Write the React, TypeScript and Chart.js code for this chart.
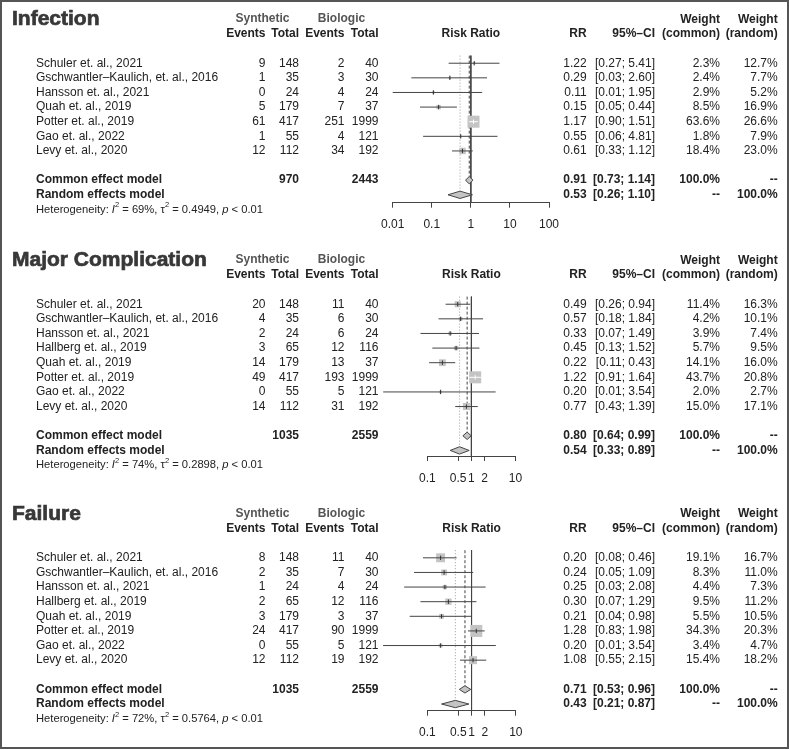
import React, { useEffect, useRef } from 'react';
import { Chart, registerables } from 'chart.js';
Chart.register(...registerables);

const FONT = '"Liberation Sans", Arial, Helvetica, sans-serif';
const W = 789;
const H = 750;
const STEP = 14.62;

// ---------------- Infection ----------------
const infStudies = ['Schuler et. al., 2021', 'Gschwantler\u2013Kaulich, et. al., 2016', 'Hansson et. al., 2021', 'Quah et. al., 2019', 'Potter et. al., 2019', 'Gao et. al., 2022', 'Levy et. al., 2020'];
const infSynEvents = [9, 1, 0, 5, 61, 1, 12];
const infSynTotal = [148, 35, 24, 179, 417, 55, 112];
const infBioEvents = [2, 3, 4, 7, 251, 4, 34];
const infBioTotal = [40, 30, 24, 37, 1999, 121, 192];
const infRR = [1.22, 0.29, 0.11, 0.15, 1.17, 0.55, 0.61];
const infLower = [0.27, 0.03, 0.01, 0.05, 0.90, 0.06, 0.33];
const infUpper = [5.41, 2.60, 1.95, 0.44, 1.51, 4.81, 1.12];
const infWCommon = [2.3, 2.4, 2.9, 8.5, 63.6, 1.8, 18.4];
const infWRandom = [12.7, 7.7, 5.2, 16.9, 26.6, 7.9, 23.0];
const infCommon = [0.91, 0.73, 1.14];
const infRandom = [0.53, 0.26, 1.10];
const infTotals = [970, 2443];
const infHet = { i2: 69, tau2: '0.4949', p: '< 0.01' };
const infTicks = [0.01, 0.1, 1, 10, 100];

// ---------------- Major Complication ----------------
const majStudies = ['Schuler et. al., 2021', 'Gschwantler\u2013Kaulich, et. al., 2016', 'Hansson et. al., 2021', 'Hallberg et. al., 2019', 'Quah et. al., 2019', 'Potter et. al., 2019', 'Gao et. al., 2022', 'Levy et. al., 2020'];
const majSynEvents = [20, 4, 2, 3, 14, 49, 0, 14];
const majSynTotal = [148, 35, 24, 65, 179, 417, 55, 112];
const majBioEvents = [11, 6, 6, 12, 13, 193, 5, 31];
const majBioTotal = [40, 30, 24, 116, 37, 1999, 121, 192];
const majRR = [0.49, 0.57, 0.33, 0.45, 0.22, 1.22, 0.20, 0.77];
const majLower = [0.26, 0.18, 0.07, 0.13, 0.11, 0.91, 0.01, 0.43];
const majUpper = [0.94, 1.84, 1.49, 1.52, 0.43, 1.64, 3.54, 1.39];
const majWCommon = [11.4, 4.2, 3.9, 5.7, 14.1, 43.7, 2.0, 15.0];
const majWRandom = [16.3, 10.1, 7.4, 9.5, 16.0, 20.8, 2.7, 17.1];
const majCommon = [0.80, 0.64, 0.99];
const majRandom = [0.54, 0.33, 0.89];
const majTotals = [1035, 2559];
const majHet = { i2: 74, tau2: '0.2898', p: '< 0.01' };
const majTicks = [0.1, 0.5, 1, 2, 10];

// ---------------- Failure ----------------
const failStudies = ['Schuler et. al., 2021', 'Gschwantler\u2013Kaulich, et. al., 2016', 'Hansson et. al., 2021', 'Hallberg et. al., 2019', 'Quah et. al., 2019', 'Potter et. al., 2019', 'Gao et. al., 2022', 'Levy et. al., 2020'];
const failSynEvents = [8, 2, 1, 2, 3, 24, 0, 12];
const failSynTotal = [148, 35, 24, 65, 179, 417, 55, 112];
const failBioEvents = [11, 7, 4, 12, 3, 90, 5, 19];
const failBioTotal = [40, 30, 24, 116, 37, 1999, 121, 192];
const failRR = [0.20, 0.24, 0.25, 0.30, 0.21, 1.28, 0.20, 1.08];
const failLower = [0.08, 0.05, 0.03, 0.07, 0.04, 0.83, 0.01, 0.55];
const failUpper = [0.46, 1.09, 2.08, 1.29, 0.98, 1.98, 3.54, 2.15];
const failWCommon = [19.1, 8.3, 4.4, 9.5, 5.5, 34.3, 3.4, 15.4];
const failWRandom = [16.7, 11.0, 7.3, 11.2, 10.5, 20.3, 4.7, 18.2];
const failCommon = [0.71, 0.53, 0.96];
const failRandom = [0.43, 0.21, 0.87];
const failTotals = [1035, 2559];
const failHet = { i2: 72, tau2: '0.5764', p: '< 0.01' };
const failTicks = [0.1, 0.5, 1, 2, 10];

type Panel = {
  title: string;
  studies: string[];
  synEvents: number[]; synTotal: number[]; bioEvents: number[]; bioTotal: number[];
  rr: number[]; lower: number[]; upper: number[];
  wCommon: number[]; wRandom: number[];
  common: number[]; random: number[]; totals: number[];
  het: { i2: number; tau2: string; p: string };
  ticks: number[];
  layout: { top: number; axisPx: number; left: number; right: number };
};

const panels: Panel[] = [
  {
    title: 'Infection', studies: infStudies, synEvents: infSynEvents, synTotal: infSynTotal,
    bioEvents: infBioEvents, bioTotal: infBioTotal, rr: infRR, lower: infLower, upper: infUpper,
    wCommon: infWCommon, wRandom: infWRandom, common: infCommon, random: infRandom, totals: infTotals,
    het: infHet, ticks: infTicks, layout: { top: 48.6, axisPx: 202.7, left: 392.7, right: 549 },
  },
  {
    title: 'Major Complication', studies: majStudies, synEvents: majSynEvents, synTotal: majSynTotal,
    bioEvents: majBioEvents, bioTotal: majBioTotal, rr: majRR, lower: majLower, upper: majUpper,
    wCommon: majWCommon, wRandom: majWRandom, common: majCommon, random: majRandom, totals: majTotals,
    het: majHet, ticks: majTicks, layout: { top: 289.6, axisPx: 456, left: 427.3, right: 515.5 },
  },
  {
    title: 'Failure', studies: failStudies, synEvents: failSynEvents, synTotal: failSynTotal,
    bioEvents: failBioEvents, bioTotal: failBioTotal, rr: failRR, lower: failLower, upper: failUpper,
    wCommon: failWCommon, wRandom: failWRandom, common: failCommon, random: failRandom, totals: failTotals,
    het: failHet, ticks: failTicks, layout: { top: 543.2, axisPx: 710.7, left: 427.3, right: 515.8 },
  },
];

const COL = {
  title: 12, name: 36, synHdr: 262.5, bioHdr: 341.5,
  synEv: 265.5, synTot: 299, bioEv: 344.5, bioTot: 378.5,
  rr: 586.7, ci: 655, wc: 720, wr: 777.7,
};

const DARK = '#444';
const BOX = '#c4c4c4';
const TXT = '#222';
const X_AXIS_H = 40;
const DIAM_H = 0.25;

function f2(v: number) { return v.toFixed(2); }
function ciStr(lo: number, hi: number) { return `[${f2(lo)}; ${f2(hi)}]`; }

function textPlugin(p: Panel) {
  return {
    id: 'forestText',
    afterDraw(chart: any) {
      const ctx: CanvasRenderingContext2D = chart.ctx;
      const ys = chart.scales.y;
      const xs = chart.scales.x;
      const Y = (r: number) => ys.getPixelForValue(r);
      const t = (s: string, x: number, y: number, align: CanvasTextAlign, weight = 'normal', size = 12, color = TXT) => {
        ctx.font = `${weight} ${size}px ${FONT}`;
        ctx.textAlign = align;
        ctx.textBaseline = 'middle';
        ctx.fillStyle = color;
        ctx.fillText(s, x, y);
      };
      ctx.save();
      const k = p.studies.length;
      // title (heavier, like the reference)
      t(p.title, COL.title, Y(-2), 'left', 'bold', 21, '#383838');
      ctx.lineWidth = 0.7;
      ctx.strokeStyle = '#383838';
      ctx.strokeText(p.title, COL.title, Y(-2));
      // headers
      t('Synthetic', COL.synHdr, Y(-2.05), 'center', 'bold', 12, '#555');
      t('Biologic', COL.bioHdr, Y(-2.05), 'center', 'bold', 12, '#555');
      t('Events', COL.synEv, Y(-1), 'right', 'bold');
      t('Total', COL.synTot, Y(-1), 'right', 'bold');
      t('Events', COL.bioEv, Y(-1), 'right', 'bold');
      t('Total', COL.bioTot, Y(-1), 'right', 'bold');
      t('Risk Ratio', xs.getPixelForValue(1), Y(-1), 'center', 'bold');
      t('RR', COL.rr, Y(-1), 'right', 'bold');
      t('95%\u2013CI', COL.ci, Y(-1), 'right', 'bold');
      t('Weight', COL.wc, Y(-2), 'right', 'bold');
      t('(common)', COL.wc, Y(-1), 'right', 'bold');
      t('Weight', COL.wr, Y(-2), 'right', 'bold');
      t('(random)', COL.wr, Y(-1), 'right', 'bold');
      // study rows
      for (let i = 0; i < k; i++) {
        const y = Y(i + 1);
        t(p.studies[i], COL.name, y, 'left');
        t(String(p.synEvents[i]), COL.synEv, y, 'right');
        t(String(p.synTotal[i]), COL.synTot, y, 'right');
        t(String(p.bioEvents[i]), COL.bioEv, y, 'right');
        t(String(p.bioTotal[i]), COL.bioTot, y, 'right');
        t(f2(p.rr[i]), COL.rr, y, 'right');
        t(ciStr(p.lower[i], p.upper[i]), COL.ci, y, 'right');
        t(p.wCommon[i].toFixed(1) + '%', COL.wc, y, 'right');
        t(p.wRandom[i].toFixed(1) + '%', COL.wr, y, 'right');
      }
      // models
      const yc = Y(k + 2);
      t('Common effect model', COL.name, yc, 'left', 'bold');
      t(String(p.totals[0]), COL.synTot, yc, 'right', 'bold');
      t(String(p.totals[1]), COL.bioTot, yc, 'right', 'bold');
      t(f2(p.common[0]), COL.rr, yc, 'right', 'bold');
      t(ciStr(p.common[1], p.common[2]), COL.ci, yc, 'right', 'bold');
      t('100.0%', COL.wc, yc, 'right', 'bold');
      t('--', COL.wr, yc, 'right', 'bold');
      const yr = Y(k + 3);
      t('Random effects model', COL.name, yr, 'left', 'bold');
      t(f2(p.random[0]), COL.rr, yr, 'right', 'bold');
      t(ciStr(p.random[1], p.random[2]), COL.ci, yr, 'right', 'bold');
      t('--', COL.wc, yr, 'right', 'bold');
      t('100.0%', COL.wr, yr, 'right', 'bold');
      // heterogeneity
      const yh = Y(k + 4);
      const parts = [
        { s: 'Heterogeneity: ' }, { s: 'I', it: true }, { s: '2', sup: true },
        { s: ` = ${p.het.i2}%, ` }, { s: '\u03c4' }, { s: '2', sup: true },
        { s: ` = ${p.het.tau2}, ` }, { s: 'p', it: true }, { s: ` ${p.het.p}` },
      ];
      let cx = COL.name;
      ctx.textAlign = 'left';
      ctx.textBaseline = 'middle';
      ctx.fillStyle = TXT;
      for (const part of parts as any[]) {
        const size = part.sup ? 7.5 : 11.2;
        ctx.font = `${part.it ? 'italic ' : ''}${size}px ${FONT}`;
        ctx.fillText(part.s, cx, part.sup ? yh - 4 : yh);
        cx += ctx.measureText(part.s).width;
      }
      ctx.restore();
    },
  };
}

function makeConfig(p: Panel): any {
  const k = p.studies.length;
  const L = p.layout;
  const axisRow = (L.axisPx - L.top) / STEP;
  const rows = p.studies.map((_, i) => i + 1);
  const cRow = k + 2;
  const rRow = k + 3;
  const wmax = Math.max(...p.wCommon);
  const sides = p.wCommon.map((w) => 12 * Math.sqrt(w / wmax));
  const inside = (chart: any, i: number) => {
    const xs = chart && chart.scales && chart.scales.x;
    if (!xs) return false;
    const c = xs.getPixelForValue(p.rr[i]);
    const lo = xs.getPixelForValue(p.lower[i]);
    const hi = xs.getPixelForValue(p.upper[i]);
    if (!isFinite(c) || !isFinite(lo) || !isFinite(hi)) return false;
    const h = sides[i] / 2;
    return lo >= c - h && hi <= c + h;
  };
  const lineBase = { type: 'line', pointRadius: 0, borderWidth: 1, clip: false, fill: false, tension: 0 };
  const layers: any[] = [];
  // reference lines (bottom)
  layers.push({ ...lineBase, data: [{ x: 1, y: 0.48 }, { x: 1, y: axisRow }], borderColor: DARK });
  layers.push({ ...lineBase, data: [{ x: p.random[0], y: 0.48 }, { x: p.random[0], y: rRow - DIAM_H }], borderColor: '#9a9a9a', borderDash: [1, 2] });
  layers.push({ ...lineBase, data: [{ x: p.common[0], y: 0.48 }, { x: p.common[0], y: cRow - DIAM_H }], borderColor: DARK, borderDash: [3, 2] });
  // boxes
  layers.push({
    type: 'scatter', data: rows.map((r, i) => ({ x: p.rr[i], y: r })), clip: false,
    pointStyle: 'rect', pointRadius: sides.map((s) => s / Math.SQRT2), pointBackgroundColor: BOX, pointBorderWidth: 0,
  });
  // CI lines
  rows.forEach((r, i) => {
    layers.push({
      ...lineBase, data: [{ x: p.lower[i], y: r }, { x: p.upper[i], y: r }],
      borderColor: (c: any) => (inside(c.chart, i) ? '#ffffff' : DARK),
    });
  });
  // estimate tick marks
  layers.push({
    type: 'scatter', data: rows.map((r, i) => ({ x: p.rr[i], y: r })), clip: false,
    pointStyle: 'line', rotation: 90, pointRadius: 2.2, pointBorderWidth: 1,
    pointBorderColor: (c: any) => (inside(c.chart, c.dataIndex) ? '#ffffff' : '#333'),
  });
  // diamonds
  const diamond = (est: number[], row: number) => ({
    ...lineBase, fill: 'shape', backgroundColor: BOX, borderColor: DARK,
    data: [
      { x: est[1], y: row }, { x: est[0], y: row - DIAM_H }, { x: est[2], y: row },
      { x: est[0], y: row + DIAM_H }, { x: est[1], y: row },
    ],
  });
  layers.push(diamond(p.common, cRow));
  layers.push(diamond(p.random, rRow));

  const datasets = layers.reverse();

  return {
    type: 'scatter',
    data: { datasets },
    options: {
      animation: false,
      responsive: false,
      events: [],
      layout: { padding: { top: L.top, bottom: H - L.axisPx - X_AXIS_H, left: L.left, right: W - L.right } },
      plugins: { legend: { display: false }, tooltip: { enabled: false }, title: { display: false } },
      scales: {
        x: {
          type: 'logarithmic',
          position: 'bottom',
          min: p.ticks[0],
          max: p.ticks[p.ticks.length - 1],
          afterBuildTicks: (scale: any) => { scale.ticks = p.ticks.map((v) => ({ value: v })); },
          afterFit: (scale: any) => { scale.height = X_AXIS_H; },
          grid: { display: true, drawOnChartArea: false, drawTicks: true, tickLength: 5, color: DARK, lineWidth: 1 },
          border: { display: true, color: DARK, width: 1 },
          ticks: {
            autoSkip: false, maxRotation: 0, minRotation: 0, padding: 10,
            font: { size: 12, family: FONT }, color: TXT,
            callback: (v: any) => String(v),
          },
        },
        y: { type: 'linear', reverse: true, min: 0, max: axisRow, display: false },
      },
    },
    plugins: [textPlugin(p)],
  };
}

export default function App() {
  const r0 = useRef<HTMLCanvasElement>(null);
  const r1 = useRef<HTMLCanvasElement>(null);
  const r2 = useRef<HTMLCanvasElement>(null);
  useEffect(() => {
    const refs = [r0, r1, r2];
    const charts = panels.map((p, i) => new Chart(refs[i].current as HTMLCanvasElement, makeConfig(p)));
    return () => charts.forEach((c) => c.destroy());
  }, []);
  const cs: React.CSSProperties = { position: 'absolute', left: 0, top: 0, width: W, height: H };
  return (
    <div style={{ position: 'fixed', left: 0, top: 0, width: W, height: H, background: '#fff', overflow: 'hidden' }}>
      <canvas ref={r0} width={W} height={H} style={cs} />
      <canvas ref={r1} width={W} height={H} style={cs} />
      <canvas ref={r2} width={W} height={H} style={cs} />
      <div style={{ position: 'absolute', left: 0, top: 0, width: W, height: 749, border: '2px solid #555', boxSizing: 'border-box', pointerEvents: 'none' }} />
    </div>
  );
}
